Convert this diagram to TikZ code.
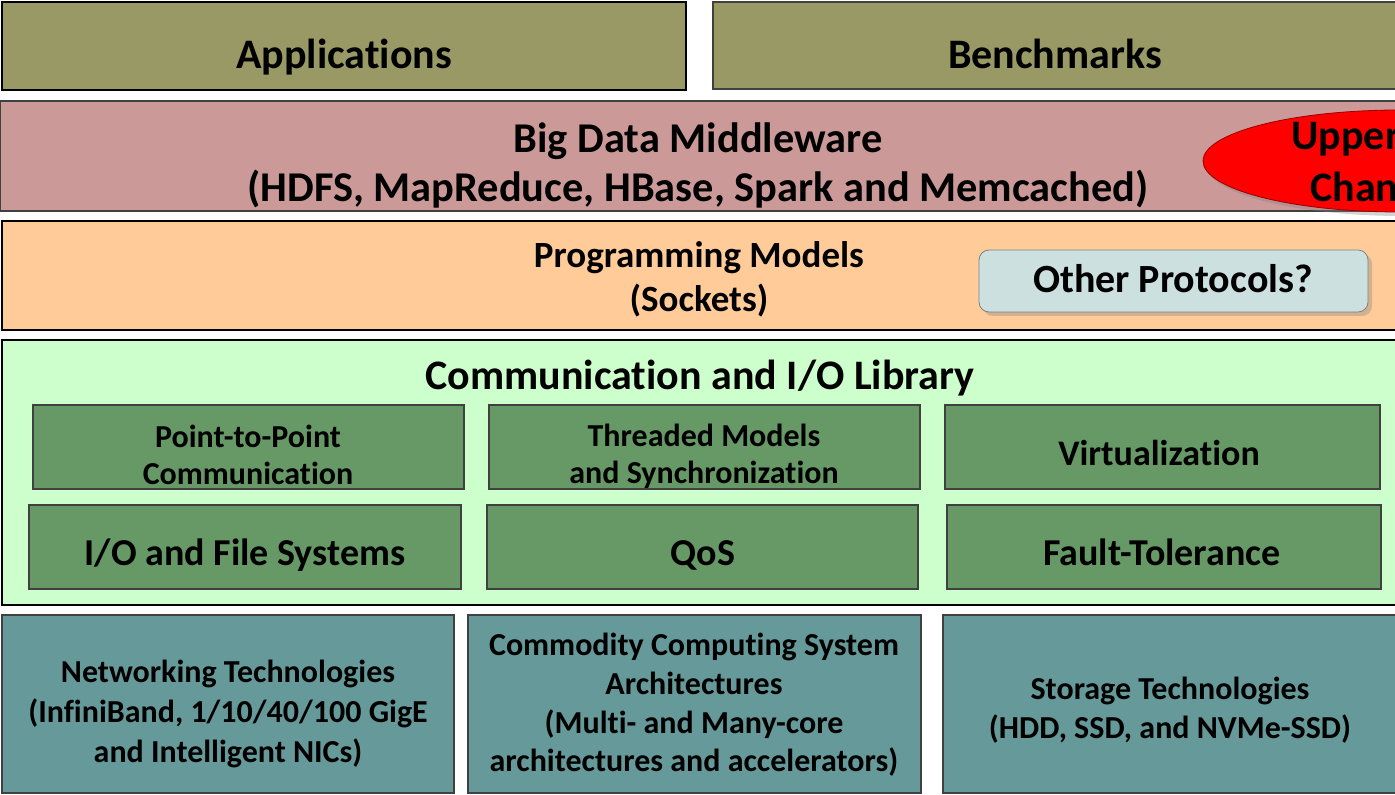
\documentclass[tikz,border=0pt]{standalone}
\usepackage{fontspec}
\setmainfont{Carlito}[Ligatures=NoCommon]
\usetikzlibrary{fit,shapes.geometric,shadows}
\definecolor{appcol}{RGB}{153,153,102}
\definecolor{midcol}{RGB}{204,153,153}
\definecolor{progcol}{RGB}{255,204,153}
\definecolor{commcol}{RGB}{204,255,204}
\definecolor{subcol}{RGB}{102,153,102}
\definecolor{hwcol}{RGB}{102,153,153}
\definecolor{othcol}{RGB}{205,224,224}
\begin{document}
\begin{tikzpicture}[x=0.5pt,y=-0.5pt,
  box/.style={draw=black!75,line width=0.6pt,inner sep=0pt},
  heavybox/.style={draw=black,line width=1.4pt,inner sep=0pt},
  lbl/.style 2 args={align=center,inner sep=0pt,font=\bfseries\fontsize{#1}{#2}\selectfont}]
\useasboundingbox (0,0) rectangle (1395,795);
\clip (0,0) rectangle (1395,795);
\node[heavybox,fill=appcol,fit={(2,2) (686,90)}] (apps) {};
\node[box,fill=appcol,fit={(713,2) (1410,89)}] (bench) {};
\node[box,fill=midcol,fit={(0,101) (1410,211)}] (bigdata) {};
\node[heavybox,fill=progcol,fit={(2,221) (1410,330)}] (prog) {};
\node[heavybox,fill=commcol,fit={(2,340) (1410,605)}] (comm) {};
\node[box,fill=subcol,fit={(33,405) (464,489)}] (ptp) {};
\node[box,fill=subcol,fit={(489,405) (920,489)}] (thread) {};
\node[box,fill=subcol,fit={(945,405) (1380,489)}] (virt) {};
\node[box,fill=subcol,fit={(29,505) (461,589)}] (iofs) {};
\node[box,fill=subcol,fit={(487,505) (918,589)}] (qos) {};
\node[box,fill=subcol,fit={(947,505) (1381,589)}] (fault) {};
\node[box,fill=hwcol,fit={(2,615) (454,793)}] (net) {};
\node[box,fill=hwcol,fit={(468,615) (921,793)}] (cpu) {};
\node[box,fill=hwcol,fit={(943,615) (1410,793)}] (stor) {};
\node[draw=black!50,fill=othcol,rounded corners=5pt,inner sep=0pt,
  drop shadow={shadow xshift=2pt,shadow yshift=-2pt,opacity=0.35},
  fit={(979,250) (1368,312)}] (other) {};
\node[ellipse,draw=red!60!black,fill=red,inner sep=0pt,minimum width=197pt,minimum height=51pt,
  drop shadow={shadow xshift=1.5pt,shadow yshift=-2pt,opacity=0.35}] (upper) at (1400,161) {};
\node[lbl={21}{25}, anchor=base] (appst) at (344,69) {Applications};
\node[lbl={21}{25}, anchor=base] (bencht) at (1055,69) {Benchmarks};
\node[lbl={21.2}{24.5}] (bigdatat) at (698,165) {Big Data Middleware\\(HDFS, MapReduce, HBase, Spark and Memcached)};
\node[lbl={21}{25}, anchor=base west] (uppert) at (1291,150) {Upper};
\node[lbl={21}{25}, anchor=base west] (chant) at (1310,202) {Chan};
\node[lbl={18.5}{22}] (progt) at (699,279) {Programming Models\\(Sockets)};
\node[lbl={20}{24}, anchor=base] (othert) at (1173,293) {Other Protocols?};
\node[lbl={21}{25}, anchor=base] (commt) at (700,390) {Communication and I/O Library};
\node[lbl={16}{18.5}] (ptpt) at (248,455) {Point-to-Point\\Communication};
\node[lbl={16}{18.5}] (threadt) at (704,456) {Threaded Models\\and Synchronization};
\node[lbl={18}{22}, anchor=base] (virtt) at (1159,466) {Virtualization};
\node[lbl={19}{22}, anchor=base] (iofst) at (245,566) {I/O and File Systems};
\node[lbl={19}{22}, anchor=base] (qost) at (703,566) {QoS};
\node[lbl={19}{22}, anchor=base] (faultt) at (1162,566) {Fault-Tolerance};
\node[lbl={16}{20}] (nett) at (228,714) {Networking Technologies\\(InfiniBand, 1/10/40/100 GigE\\and Intelligent NICs)};
\node[lbl={16}{19.3}] (cput) at (694,705) {Commodity Computing System\\Architectures\\(Multi- and Many-core\\architectures and accelerators)};
\node[lbl={16}{19.5}] (stort) at (1170,710) {Storage Technologies\\(HDD, SSD, and NVMe-SSD)};
\end{tikzpicture}
\end{document}
